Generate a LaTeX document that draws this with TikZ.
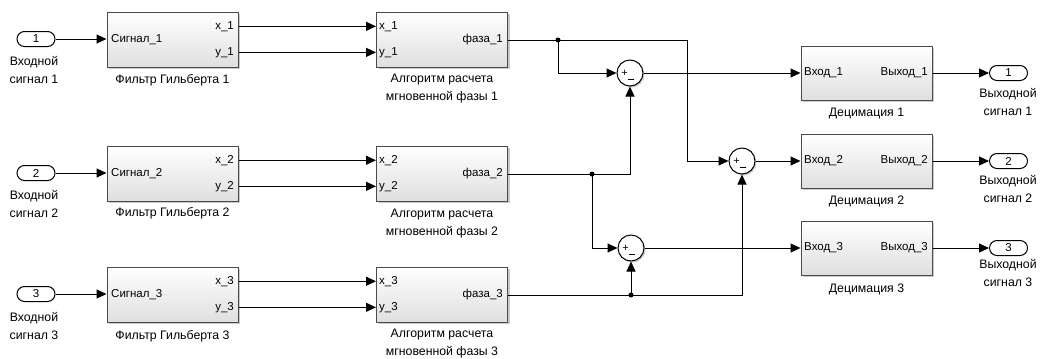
\documentclass[tikz,border=0pt]{standalone}
\usepackage{fontspec}
\setmainfont{Liberation Sans}
\usetikzlibrary{arrows.meta,calc,shadows}
\definecolor{edge}{HTML}{4A4A4A}
\newcommand{\fsin}{\fontsize{11.5}{13}\selectfont}
\newcommand{\fslb}{\fontsize{12.3}{18}\selectfont}
\begin{document}
\begin{tikzpicture}[x=1pt,y=-1pt,
  blk/.style={draw=edge, line width=1pt, top color=white, bottom color=gray!25,
    minimum width=131pt, minimum height=55pt, inner sep=0,
    drop shadow={shadow xshift=2pt,shadow yshift=-2pt,fill=gray!70,opacity=0.6}},
  portbox/.style={draw=black, line width=1pt, rounded corners=7.5pt, fill=white,
    minimum width=38pt, minimum height=15pt, inner sep=0, font=\fsin},
  sumc/.style={circle, draw=black, line width=1pt, fill=white, minimum size=26pt, inner sep=0,
    drop shadow={shadow xshift=1.5pt,shadow yshift=-1.5pt,fill=gray!70,opacity=0.6}},
  lbl/.style={inner sep=0, font=\fsin},
  caption/.style={inner sep=0, font=\fslb, align=center},
  wire/.style={line width=1pt},
  arr/.style={wire, -{Triangle[length=10pt,width=9pt]}},
  jdot/.style={circle, fill=black, inner sep=0, minimum size=5pt},
]
\useasboundingbox (0,0) rectangle (1045,359);

% ---------- inports ----------
\foreach \i/\y in {1/39,2/173,3/294}{
  \node[portbox] (in\i) at (36,\y) {\i};
}
\node[caption] (inl1) at (34,70) {Входной\\сигнал 1};
\node[caption] (inl2) at (34,204) {Входной\\сигнал 2};
\node[caption] (inl3) at (34,326) {Входной\\сигнал 3};

% ---------- Hilbert filters ----------
\foreach \i/\y in {1/39.5,2/173.5,3/294.5}{
  \node[blk] (f\i) at (172.5,\y) {};
  \node[lbl, anchor=mid west] (f\i s) at (111,\y) {Сигнал\_\i};
  \node[lbl, anchor=mid east] (f\i x) at (234,\y-13) {x\_\i};
  \node[lbl, anchor=mid east] (f\i y) at (234,\y+13) {y\_\i};
}
\node[caption] (fl1) at (172.5,80) {Фильтр Гильберта 1};
\node[caption] (fl2) at (172.5,213) {Фильтр Гильберта 2};
\node[caption] (fl3) at (172.5,336) {Фильтр Гильберта 3};

% ---------- phase algorithm ----------
\foreach \i/\y in {1/39.5,2/173.5,3/294.5}{
  \node[blk] (a\i) at (442,\y) {};
  \node[lbl, anchor=mid west] (a\i x) at (379,\y-13) {x\_\i};
  \node[lbl, anchor=mid west] (a\i y) at (379,\y+13) {y\_\i};
  \node[lbl, anchor=mid east] (a\i p) at (503,\y+0.5) {фаза\_\i};
}
\node[caption] (al1) at (442,89) {Алгоритм расчета\\мгновенной фазы 1};
\node[caption] (al2) at (442,223.5) {Алгоритм расчета\\мгновенной фазы 2};
\node[caption] (al3) at (442,344) {Алгоритм расчета\\мгновенной фазы 3};

% ---------- sums ----------
\node[sumc] (s1) at (630,73) {};
\node[sumc] (s2) at (742,161) {};
\node[sumc] (s3) at (631,248) {};
\foreach \s in {s1,s2,s3}{
  \node[inner sep=0, font=\fontsize{11}{11}\selectfont] at ($(\s)+(-5.5,0)$) {+};
  \draw[line width=1pt] ($(\s)+(-2,6.5)$) -- ($(\s)+(3.5,6.5)$);
}

% ---------- decimation ----------
\foreach \i/\y in {1/73,2/161,3/248}{
  \node[blk, minimum height=54pt] (d\i) at (866.5,\y) {};
  \node[lbl, anchor=mid west] (d\i i) at (804,\y) {Вход\_\i};
  \node[lbl, anchor=mid east] (d\i o) at (928,\y) {Выход\_\i};
  \node[portbox] (o\i) at (1008.5,\y) {\i};
}
\node[caption] (dl1) at (866.5,113) {Децимация 1};
\node[caption] (dl2) at (866.5,201) {Децимация 2};
\node[caption] (dl3) at (866.5,289) {Децимация 3};
\node[caption] (ol1) at (1008,101.5) {Выходной\\сигнал 1};
\node[caption] (ol2) at (1008,189) {Выходной\\сигнал 2};
\node[caption] (ol3) at (1008,273) {Выходной\\сигнал 3};

% ---------- connectors ----------
\foreach \i in {1,2,3}{
  \draw[arr] (in\i.east) -- (in\i.east -| f\i.west);
  \draw[arr] (f\i.east |- f\i x) -- (a\i.west |- f\i x);
  \draw[arr] (f\i.east |- f\i y) -- (a\i.west |- f\i y);
  \draw[arr] (s\i.east) -- (d\i.west |- s\i);
  \draw[arr] (d\i.east) -- (o\i.west);
}

\coordinate (b1) at (558,40);
\coordinate (b2) at (592,174);
\coordinate (b3) at (631,295);
\coordinate (k1) at (687,40);
\coordinate (k3) at (742,295);

\draw[wire] (a1.east |- b1) -- (b1);
\draw[arr] (b1) -- (k1) |- (s2.west);
\draw[arr] (b1) |- (s1.west);

\draw[wire] (a2.east |- b2) -- (b2);
\draw[arr] (b2) -| (s1.south);
\draw[arr] (b2) |- (s3.west);

\draw[wire] (a3.east |- b3) -- (b3);
\draw[arr] (b3) -- (s3.south);
\draw[arr] (b3) -- (k3) -- (s2.south);

\node[jdot] at (b1) {};
\node[jdot] at (b2) {};
\node[jdot] at (b3) {};
\end{tikzpicture}
\end{document}
